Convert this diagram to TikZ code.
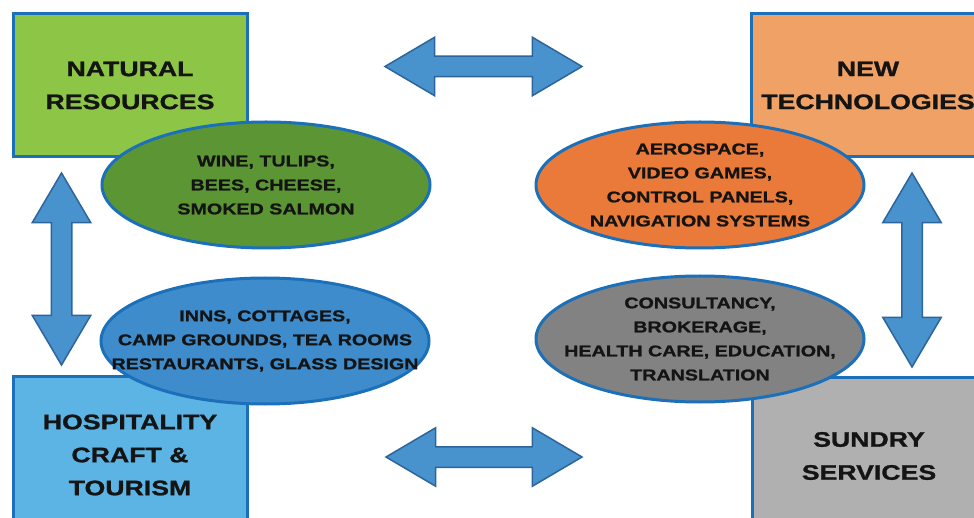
\documentclass[tikz,border=0pt]{standalone}
\usepackage{fontspec}
\setmainfont{Liberation Sans}
\newfontfamily\labelfont[FakeStretch=1.27,FakeBold=1.2]{Liberation Sans}
\usepackage{xcolor}
\usetikzlibrary{shapes,positioning,arrows}

\definecolor{rim}{RGB}{28,112,186}
\definecolor{ink}{RGB}{20,20,20}
\definecolor{natfill}{RGB}{141,198,70}
\definecolor{natoval}{RGB}{92,150,52}
\definecolor{techfill}{RGB}{240,162,102}
\definecolor{techoval}{RGB}{233,122,58}
\definecolor{hospfill}{RGB}{92,180,228}
\definecolor{hospoval}{RGB}{62,140,204}
\definecolor{servfill}{RGB}{176,176,176}
\definecolor{servoval}{RGB}{130,130,130}
\definecolor{linkfill}{RGB}{72,146,205}
\definecolor{linkrim}{RGB}{45,100,155}

\begin{document}
\begin{tikzpicture}[x=1pt,y=-1pt,
  sector/.style={rectangle,draw=rim,line width=3pt,minimum width=234pt,minimum height=143pt,
    align=center,text=ink,font=\labelfont\bfseries\fontsize{21}{33}\selectfont},
  niche/.style={ellipse,draw=rim,line width=3pt,minimum width=328pt,minimum height=126pt,
    inner xsep=-40pt,inner ysep=0pt,align=center,text=ink,font=\labelfont\bfseries\fontsize{15.5}{24}\selectfont},
  link/.style={double arrow,draw=linkrim,fill=linkfill,line width=1.5pt,inner xsep=0pt,inner ysep=9.5pt,
    double arrow head extend=19pt,double arrow tip angle=61,double arrow head indent=0pt}]

\clip (0,0) rectangle (974,518);

% draw the four sectors
\node[sector,fill=natfill] (natural) at (130,85.5) {NATURAL\\RESOURCES};
\node[sector,fill=techfill] (tech) at (868,85.5) {NEW\\TECHNOLOGIES};
\node[sector,fill=hospfill,minimum height=158pt] (hosp) at (130,455) {HOSPITALITY\\CRAFT \&\\TOURISM};
\node[sector,fill=servfill,minimum height=158pt] (serv) at (869,456) {SUNDRY\\SERVICES};

% draw the examples of each sector
\node[niche,fill=natoval] (naturalx) at (266,185) {WINE, TULIPS,\\BEES, CHEESE,\\SMOKED SALMON};
\node[niche,fill=techoval] (techx) at (700,185) {AEROSPACE,\\VIDEO GAMES,\\CONTROL PANELS,\\NAVIGATION SYSTEMS};
\node[niche,fill=hospoval] (hospx) at (265,341) {INNS, COTTAGES,\\CAMP GROUNDS, TEA ROOMS\\RESTAURANTS, GLASS DESIGN};
\node[niche,fill=servoval] (servx) at (700,339) {CONSULTANCY,\\BROKERAGE,\\HEALTH CARE, EDUCATION,\\TRANSLATION};

% draw the links between sectors
\foreach \name/\x/\y/\len/\ang in {linkN/483.5/66.5/197/0, linkS/484/457/196/0, linkW/61.5/269/192/90, linkE/912/270/194/90}
{
  \node[link,minimum height=\len pt,rotate=\ang] (\name) at (\x,\y) {};
}

\end{tikzpicture}
\end{document}
